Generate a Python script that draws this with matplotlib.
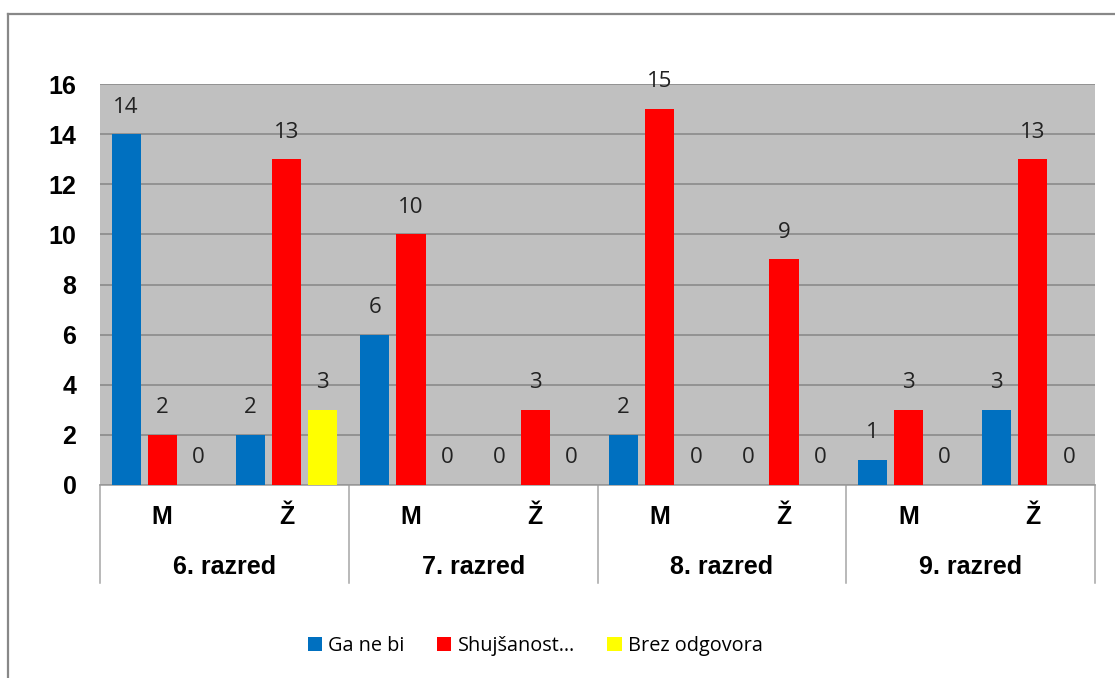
import numpy as np
import matplotlib
matplotlib.use('Agg')
import matplotlib.pyplot as plt
from matplotlib.patches import Patch
from matplotlib.lines import Line2D

# data
spol = ['M', 'Ž', 'M', 'Ž', 'M', 'Ž', 'M', 'Ž']
razredi = ['6. razred', '7. razred', '8. razred', '9. razred']
serije = ['Ga ne bi', 'Shujšanost…', 'Brez odgovora']
ga_ne_bi = [14, 2, 6, 0, 2, 0, 1, 3]
shujsanost = [2, 13, 10, 3, 15, 9, 3, 13]
brez_odgovora = [0, 3, 0, 0, 0, 0, 0, 0]
yticks = [0, 2, 4, 6, 8, 10, 12, 14, 16]

barve = ['#0070C0', '#FF0000', '#FFFF00']

fig = plt.figure(figsize=(11.15, 6.78), dpi=100)
ax = fig.add_axes([100/1115, 1-485/678, 995/1115, 401/678])
ax.set_facecolor('#C0C0C0')

x = np.arange(len(spol))
w = 0.235
step = 0.29
for i, vals in enumerate([ga_ne_bi, shujsanost, brez_odgovora]):
    xs = x + (i-1)*step
    ax.bar(xs, vals, width=w, color=barve[i], zorder=3)
    for xi, v in zip(xs, vals):
        ax.annotate(str(v), (xi, v), xytext=(0, 19.5), textcoords='offset points',
                    ha='center', va='center', fontsize=16, family='Open Sans',
                    color='#222222', zorder=4)

ax.set_xlim(-0.5, 7.5)
ax.set_ylim(0, 16)
ax.set_yticks(yticks)
ax.set_yticklabels([str(t) for t in yticks], fontsize=18, fontweight='bold',
                   family='Liberation Sans')
ax.tick_params(axis='y', length=0, pad=17)
ax.set_xticks([])
ax.grid(axis='y', color='#868686', linewidth=1.1, zorder=1)
for s in ['top', 'right', 'left']:
    ax.spines[s].set_visible(False)
ax.spines['bottom'].set_color('#999999')
ax.spines['bottom'].set_linewidth(1.1)

# category axis
tr = ax.get_xaxis_transform()
for xi, s in zip(x, spol):
    ax.text(xi, -0.08, s, transform=tr, ha='center', va='center', fontsize=18,
            fontweight='bold', family='Liberation Sans', clip_on=False)
for gi, g in enumerate(razredi):
    ax.text(2*gi + 0.5, -0.205, g, transform=tr, ha='center', va='center',
            fontsize=18, fontweight='bold', family='Liberation Sans', clip_on=False)
for b in [-0.5, 1.5, 3.5, 5.5, 7.5]:
    ax.plot([b, b], [0, -0.244], transform=tr, color='#A6A6A6', lw=1.1,
            clip_on=False)

# outer frame
fig.add_artist(Line2D([8/1115, 8/1115], [0, 1-14/678], color='#888888', lw=1.6))
fig.add_artist(Line2D([8/1115, 1], [1-14/678, 1-14/678], color='#888888', lw=1.6))

handles = [Patch(facecolor=c, edgecolor='none') for c in barve]
fig.legend(handles, serije, loc='center', bbox_to_anchor=(0.48, 0.047),
           ncol=3, frameon=False, prop={'family': 'Open Sans', 'size': 14.3},
           handlelength=0.72, handleheight=0.72, handletextpad=0.3,
           columnspacing=1.65)

plt.savefig('out.png')
